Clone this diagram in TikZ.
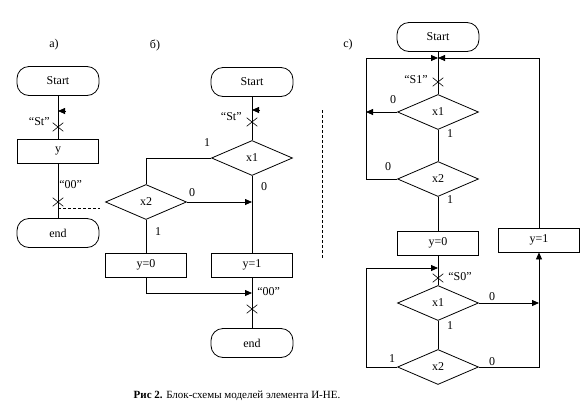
\documentclass[tikz,border=0pt]{standalone}
\usepackage{fontspec}
\setmainfont{Liberation Serif}
\usetikzlibrary{arrows.meta,shapes.geometric,shapes.misc}

\tikzset{
    term/.style={draw, rounded corners=12pt, minimum width=82pt, minimum height=29pt, inner sep=0pt},
    blk/.style={draw, rectangle, minimum width=81pt, minimum height=24pt, inner sep=0pt},
    cond/.style={draw, diamond, minimum width=81pt, minimum height=35pt, inner sep=0pt},
    xmark/.style={draw, cross out, minimum width=10pt, minimum height=8pt, inner sep=0pt, line width=0.6pt},
    tip/.style={-{Triangle[length=7pt,width=6pt]}},
    lbl/.style={inner sep=1pt}
}

\begin{document}
\begin{tikzpicture}[x=1pt, y=-1pt, line width=0.8pt, font=\fontsize{12}{13}\selectfont]
        \useasboundingbox (0, 0) rectangle (582, 416);

        % a)
        \node (aL) at (54, 45) {a)};
        \node[term] (aS) at (58, 81)  {Start};
        \node[blk]  (aY) at (58, 151) {y};
        \node[term] (aE) at (58, 233) {end};
        \node[xmark] (aX1) at (58, 127) {};
        \node[xmark] (aX2) at (58, 202) {};
        \coordinate (aIn) at (58, 111);
        \coordinate (aOut) at (58, 208);
        \coordinate (aOutE) at (100, 208);
        \node[lbl, anchor=east] at (51, 122) {“St”};
        \node[lbl, anchor=west] at (58, 185) {“00”};

        \draw (aS) -- (aY);
        \draw (aY) -- (aE);
        \draw[tip] ([xshift=8pt]aIn) -- (aIn);
        \draw[dashed, dash pattern=on 3pt off 2pt] (aOut) -- (aOutE);

        % б)
        \node (bL) at (155, 45) {б)};
        \node[term] (bS)  at (252, 82)  {Start};
        \node[cond] (bC1) at (252, 158) {x1};
        \node[cond] (bC2) at (146, 202) {x2};
        \node[blk]  (bY0) at (146, 265) {y=0};
        \node[blk]  (bY1) at (252, 265) {y=1};
        \node[term] (bE)  at (252, 343) {end};
        \node[xmark] (bX1) at (252, 122) {};
        \node[xmark] (bX2) at (252, 309) {};
        \coordinate (bIn) at (252, 110);
        \coordinate (bJ1) at (252, 202);
        \coordinate (bJ2) at (252, 293);
        \node[lbl, anchor=east] at (243, 117) {“St”};
        \node[lbl] at (207, 143) {1};
        \node[lbl] at (192, 193) {0};
        \node[lbl] at (264, 187) {0};
        \node[lbl] at (158, 232) {1};
        \node[lbl, anchor=west] at (256, 292) {“00”};

        \draw (bS) -- (bC1);
        \draw[tip] ([xshift=8pt]bIn) -- (bIn);
        \draw (bC1.west) -| (bC2.north);
        \draw (bC1.south) -- (bY1.north);
        \draw[tip] (bC2.east) -- (bJ1);
        \draw (bC2.south) -- (bY0.north);
        \draw[tip] (bY0.south) |- (bJ2);
        \draw (bY1) -- (bE);

        % separator
        \draw[dashed, dash pattern=on 3pt off 2pt] (322, 110) -- (322, 259);

        % c)
        \node (cL) at (348, 45) {c)};
        \node[term] (cS)  at (438, 37)  {Start};
        \node[cond] (cA1) at (438, 112) {x1};
        \node[cond] (cA2) at (438, 179) {x2};
        \node[blk]  (cY0) at (438, 243) {y=0};
        \node[blk]  (cY1) at (539, 240) {y=1};
        \node[cond] (cB1) at (438, 303) {x1};
        \node[cond] (cB2) at (438, 367) {x2};
        \node[xmark] (cX1) at (438, 82)  {};
        \node[xmark] (cX2) at (438, 278) {};
        \coordinate (cTop) at (438, 58);
        \coordinate (cMid) at (438, 268);
        \coordinate (cR1) at (539, 303);
        \node[lbl, anchor=east] at (429, 80) {“S1”};
        \node[lbl, anchor=west] at (447, 277) {“S0”};
        \node[lbl] at (393, 100) {0};
        \node[lbl] at (450, 134) {1};
        \node[lbl] at (388, 167) {0};
        \node[lbl] at (450, 200) {1};
        \node[lbl] at (492, 297) {0};
        \node[lbl] at (450, 326) {1};
        \node[lbl] at (392, 359) {1};
        \node[lbl] at (492, 362) {0};

        \draw (cS) -- (cA1);
        \draw (cA1) -- (cA2);
        \draw (cA2) -- (cY0);
        \draw[tip] (cA1.west) -- (366, 112);
        \draw[tip] (cA2.west) -| (366, 58) -- (cTop);
        \draw[tip] (cY1.north) |- (cTop);
        \draw (cY0) -- (cB1);
        \draw (cB1) -- (cB2);
        \draw[tip] (cB2.west) -| (366, 268) -- (cMid);
        \draw[tip] (cB1.east) -- (cR1);
        \draw[tip] (cB2.east) -| (cY1.south);

        % caption
        \node[font=\fontsize{11}{12}\selectfont] (cap) at (237, 396) {\textbf{Рис 2.} Блок-схемы моделей элемента И-НЕ.};
\end{tikzpicture}
\end{document}
